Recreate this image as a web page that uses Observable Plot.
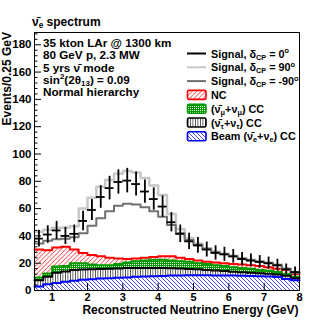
<!DOCTYPE html>
<html><head><meta charset="utf-8">
<script src="https://cdn.jsdelivr.net/npm/d3@7"></script>
<script src="https://cdn.jsdelivr.net/npm/@observablehq/plot@0.6"></script>
<style>body{margin:0;background:#fff} svg{display:block}</style>
</head><body><div id="chart"></div>
<script>
// ---- data (events per 0.25 GeV bin) ----
const binEdges = [0.5,0.75,1,1.25,1.5,1.75,2,2.25,2.5,2.75,3,3.25,3.5,3.75,4,4.25,4.5,4.75,5,5.25,5.5,5.75,6,6.25,6.5,6.75,7,7.25,7.5,7.75,8];
const beamCC  = [3,4.5,5.5,6.5,7.2,7.8,8.3,8.7,9,9.3,9.6,10,10.3,10.5,10.7,10.9,11,11.1,11.1,11.1,11,11,10.9,10.8,10.6,10.4,10.2,9.8,8.5,7.5];
const nutauCC = [4.5,5.5,7.5,7.5,7.8,7.5,7.2,7,7,6.9,6.8,6.5,6.2,6,5.7,5.4,5.1,4.7,4.4,4,3.6,3.2,2.9,2.6,2.4,2.2,2,2,2.3,1.5];
const numuCC  = [2,2.5,4.5,4,5,4.7,3.5,2.8,2.5,3.3,4.1,5,5.5,6,6.1,5.7,5.4,5.2,4.5,4.4,3.9,3.8,3.2,3.1,3,2.4,2.3,1.7,1.2,1];
const ncBkg   = [20.5,17,14,14,10,7.5,7,6.5,5.5,4,2.5,2,2,2,2.5,3,2.5,2,2,1.5,2,2,2.5,2.5,2.5,3,2.5,2.5,3,2];
// signal + background totals
const signalDcp0   = [38,41,44,40,41.5,51,59,68.5,75,79.5,80.5,78,72.5,67,61.5,50,41.5,36,33,30,27.5,26.5,25,23,22,21,20,18.5,15.5,13.5];
const signalDcp90  = [43,44.5,46,46,47,60,68,76,81,85.5,87.5,86.5,82.5,77,70,56,45,38.5,34.5,31,28.5,27,25.5,23.5,22.5,21.5,20.5,19,16,13.5];
const signalDcpM90 = [34.5,36.5,37.5,38,39,42,47.5,53,58,62,63.5,63,61,58,54,48,42,37,33.5,30.5,28,26.5,25,23.5,22,21,20,18.5,16,13];
const yMajorTicks = [0,20,40,60,80,100,120,140,160,180];
const yMinorTicks = [4,8,12,16,24,28,32,36,44,48,52,56,64,68,72,76,84,88,92,96,104,108,112,116,124,128,132,136,144,148,152,156,164,168,172,176,184,188];
const xTicks = [1,2,3,4,5,6,7,8];
const titleParts = [{t:"ν̄"},{t:"e",sub:true},{t:" spectrum"}];
const infoLines = [
  [{t:"35 kton LAr @ 1300 km"}],
  [{t:"80 GeV p, 2.3 MW"}],
  [{t:"5 yrs ν̄ mode"}],
  [{t:"sin"},{t:"2",sup:true},{t:"(2θ"},{t:"13",sub:true},{t:") = 0.09"}],
  [{t:"Normal hierarchy"}]
];
const legendEntries = [
  {kind:"line", color:"#000000", parts:[{t:"Signal, δ"},{t:"CP",sub:true},{t:" = 0"},{t:"o",sup:true}]},
  {kind:"line", color:"#c8c8c8", parts:[{t:"Signal, δ"},{t:"CP",sub:true},{t:" = 90"},{t:"o",sup:true}]},
  {kind:"line", color:"#707070", parts:[{t:"Signal, δ"},{t:"CP",sub:true},{t:" = -90"},{t:"o",sup:true}]},
  {kind:"box", color:"#ff0000", fill:"url(#hRed)", parts:[{t:"NC"}]},
  {kind:"box", color:"#009a00", fill:"url(#hGreen)", parts:[{t:"(ν̄"},{t:"μ",sub:true},{t:"+ν"},{t:"μ",sub:true},{t:") CC"}]},
  {kind:"box", color:"#000000", fill:"url(#hBlack)", parts:[{t:"(ν̄"},{t:"τ",sub:true},{t:"+ν"},{t:"τ",sub:true},{t:") CC"}]},
  {kind:"box", color:"#0000ff", fill:"url(#hBlue)", parts:[{t:"Beam (ν̄"},{t:"e",sub:true},{t:"+ν"},{t:"e",sub:true},{t:") CC"}]}
];

// ---- derived tables ----
const nBins = beamCC.length;
const layers = [
  {vals: beamCC, color:"#0000ff", fill:"url(#hBlue)"},
  {vals: nutauCC, color:"#000000", fill:"url(#hBlack)"},
  {vals: numuCC, color:"#009a00", fill:"url(#hGreen)"},
  {vals: ncBkg, color:"#ff0000", fill:"url(#hRed)"}
];
let base = beamCC.map(() => 0);
for (const L of layers) {
  L.lo = base.slice();
  L.hi = base.map((b, i) => b + L.vals[i]);
  base = L.hi;
}
function stepRows(lo, hi) {
  return binEdges.map((x, i) => {
    const j = Math.min(i, nBins - 1);
    return {x, lo: lo ? lo[j] : 0, hi: hi[j]};
  });
}
const errRows = signalDcp0.map((v, i) => ({x0: binEdges[i], x1: binEdges[i+1], xc: (binEdges[i]+binEdges[i+1])/2, v, e: Math.sqrt(v)}));

const font = "'Liberation Sans', Arial, Helvetica, sans-serif";
const marks = [];
for (const L of layers) {
  marks.push(Plot.areaY(stepRows(L.lo, L.hi), {x:"x", y1:"lo", y2:"hi", curve:"step-after", fill:L.fill}));
}
for (const L of layers.slice().reverse()) {
  marks.push(Plot.line(stepRows(null, L.hi), {x:"x", y:"hi", curve:"step-after", stroke:L.color, strokeWidth:2}));
}
marks.push(Plot.line(stepRows(null, signalDcp90), {x:"x", y:"hi", curve:"step-after", stroke:"#c8c8c8", strokeWidth:2.5}));
marks.push(Plot.line(stepRows(null, signalDcpM90), {x:"x", y:"hi", curve:"step-after", stroke:"#707070", strokeWidth:2}));
marks.push(Plot.ruleX(errRows, {x:"xc", y1:d=>d.v-d.e, y2:d=>d.v+d.e, stroke:"#000", strokeWidth:1.8}));
marks.push(Plot.ruleY(errRows, {y:"v", x1:"x0", x2:"x1", stroke:"#000", strokeWidth:1.8}));
marks.push(Plot.frame({stroke:"#000", strokeWidth:1}));
marks.push(Plot.axisY(yMajorTicks, {tickSize:0, tickPadding:3, label:null, fontSize:11.5, fontWeight:"bold"}));
marks.push(Plot.axisY(yMajorTicks, {tickSize:-7, tickFormat:()=>"", label:null}));
marks.push(Plot.axisY(yMinorTicks, {tickSize:-3.5, tickFormat:()=>"", label:null}));
marks.push(Plot.axisX(xTicks, {tickSize:0, tickPadding:3, label:null, fontSize:11, fontWeight:"bold"}));
marks.push(Plot.axisX(xTicks, {tickSize:-7, tickFormat:()=>"", label:null}));

const plot = Plot.plot({
  width: 332, height: 322,
  marginLeft: 34, marginRight: 33, marginTop: 32, marginBottom: 32,
  x: {domain:[0.5, 8]},
  y: {domain:[0, 189]},
  style: {fontFamily: font, fontSize:"11.5px", fontWeight:"bold", background:"#fff", color:"#000", overflow:"visible"},
  marks
});
document.getElementById("chart").appendChild(plot);

// ---- patterns ----
const svg = d3.select(plot);
const defs = svg.insert("defs", ":first-child");
let p = defs.append("pattern").attr("id","hRed").attr("patternUnits","userSpaceOnUse").attr("width",4.5).attr("height",4.5);
p.append("path").attr("d","M-1,1 l2,-2 M0,4.5 l4.5,-4.5 M3.5,5.5 l2,-2").attr("stroke","#ff0000").attr("stroke-width",0.8);
p = defs.append("pattern").attr("id","hBlue").attr("patternUnits","userSpaceOnUse").attr("width",4).attr("height",4);
p.append("path").attr("d","M-1,3 l2,2 M0,0 l4,4 M3,-1 l2,2").attr("stroke","#0000ff").attr("stroke-width",0.7);
p = defs.append("pattern").attr("id","hBlack").attr("patternUnits","userSpaceOnUse").attr("width",2.5).attr("height",2);
p.append("rect").attr("x",0).attr("y",0).attr("width",0.7).attr("height",2).attr("fill","#222");
p = defs.append("pattern").attr("id","hGreen").attr("patternUnits","userSpaceOnUse").attr("width",2).attr("height",2);
p.append("rect").attr("width",2).attr("height",2).attr("fill","#009a00");
p.append("rect").attr("width",1).attr("height",1).attr("fill","#ffffff");

// ---- rich text helper ----
function rich(sel, parts, size) {
  let shift = 0;
  for (const part of parts) {
    const ts = sel.append("tspan").text(part.t);
    let dy = shift;
    if (part.sub) { ts.attr("font-size", size*0.68); dy += size*0.2; shift = -size*0.2; }
    else if (part.sup) { ts.attr("font-size", size*0.68); dy += -size*0.4; shift = size*0.4; }
    else shift = 0;
    ts.attr("dy", dy);
  }
}
const g = svg.append("g").attr("font-family", font).attr("font-weight","bold").attr("fill","#000").attr("text-anchor","start");
// title
rich(g.append("text").attr("x",32).attr("y",26).attr("font-size",12), titleParts, 12);
// info box
const infoBase = [46.7, 59.2, 71.5, 83.6, 96.4];
infoLines.forEach((parts, i) => rich(g.append("text").attr("x",43).attr("y",infoBase[i]).attr("font-size",11.7), parts, 11.7));
// legend
const rowY = [53.5, 67.3, 81.1, 94.9, 108.7, 122.5, 136.3];
legendEntries.forEach((e, i) => {
  const y = rowY[i];
  if (e.kind === "line") {
    g.append("line").attr("x1",187).attr("x2",206).attr("y1",y).attr("y2",y).attr("stroke",e.color).attr("stroke-width",2);
  } else {
    g.append("rect").attr("x",187.5).attr("y",y-4.5).attr("width",18.5).attr("height",9).attr("rx",1.5)
      .attr("fill",e.fill).attr("stroke",e.color).attr("stroke-width",1.6);
  }
  rich(g.append("text").attr("x",211).attr("y",y+4).attr("font-size",10.8), e.parts, 10.8);
});
// axis titles
g.append("text").attr("transform","translate(10.5,32) rotate(-90)").attr("text-anchor","end").attr("font-size",12).text("Events/0.25 GeV");
g.append("text").attr("x",298.5).attr("y",314).attr("text-anchor","end").attr("font-size",12).text("Reconstructed Neutrino Energy (GeV)");
</script></body></html>
